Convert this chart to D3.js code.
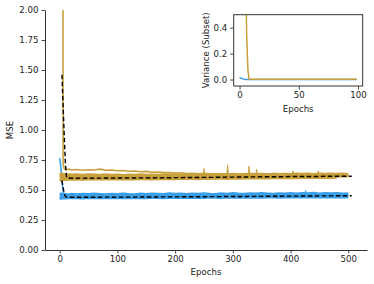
<!DOCTYPE html>
<html>
<head>
<meta charset="utf-8">
<script src="https://cdn.jsdelivr.net/npm/d3@7"></script>
<style>
  body { margin: 0; background: #fff; }
  text { font-family: "DejaVu Sans", sans-serif; }
</style>
</head>
<body>
<script>
// Epoch grid shared by every main-panel series
let epochs = [0, 2, 4, 5, 6, 8, 10, 12, 16, 20,
  30, 40, 50, 60, 70, 80, 90, 100, 110, 120,
  130, 140, 150, 160, 170, 180, 190, 200, 210, 220,
  230, 240, 250, 260, 270, 280, 290, 300, 310, 320,
  330, 340, 350, 360, 370, 380, 390, 400, 410, 420,
  430, 440, 450, 460, 470, 480, 490, 500, 506];

// Gold runs (MSE)
let goldSpikeRun = [6, 6, 6, 6, 0.72, 0.676, 0.672, 0.668, 0.674, 0.667,
  0.671, 0.665, 0.669, 0.667, 0.674, 0.664, 0.667, 0.66, 0.663, 0.656,
  0.658, 0.652, 0.655, 0.648, 0.65, 0.645, 0.646, 0.642, 0.643, 0.638,
  0.64, 0.636, 0.639, 0.634, 0.632, 0.633, 0.635, 0.63, 0.629, 0.628,
  0.631, 0.627, 0.627, 0.626, 0.627, 0.624, 0.625, 0.623, 0.624, 0.622,
  0.623, 0.621, 0.626, 0.62, 0.621, 0.619, null, null, null];
let goldRunA = [0.578, 0.582, 0.585, 0.584, 0.586, 0.585, 0.588, 0.586, 0.589, 0.587,
  0.59, 0.588, 0.591, 0.589, 0.592, 0.59, 0.589, 0.592, 0.59, 0.593,
  0.591, 0.594, 0.592, 0.59, 0.594, 0.593, 0.595, 0.592, 0.596, 0.594,
  0.595, 0.593, 0.597, 0.595, 0.598, 0.596, 0.595, 0.599, 0.597, 0.598,
  0.6, 0.598, 0.601, 0.599, 0.6, 0.602, 0.6, 0.603, 0.601, 0.602,
  0.604, 0.602, 0.603, 0.605, 0.603, 0.604, null, null, null];
let goldRunB = [0.598, 0.6, 0.602, 0.6, 0.603, 0.601, 0.6, 0.603, 0.601, 0.604,
  0.602, 0.6, 0.604, 0.602, 0.605, 0.601, 0.603, 0.606, 0.602, 0.604,
  0.603, 0.606, 0.604, 0.602, 0.607, 0.605, 0.603, 0.606, 0.604, 0.607,
  0.605, 0.608, 0.606, 0.604, 0.608, 0.607, 0.605, 0.609, 0.607, 0.61,
  0.608, 0.611, 0.609, 0.612, 0.61, 0.608, 0.612, 0.61, 0.613, 0.611,
  0.613, 0.611, 0.614, 0.612, 0.615, 0.613, 0.616, 0.614, null];
let goldRunC = [0.618, 0.62, 0.617, 0.619, 0.616, 0.618, 0.615, 0.617, 0.614, 0.616,
  0.613, 0.616, 0.614, 0.617, 0.613, 0.615, 0.618, 0.614, 0.616, 0.613,
  0.617, 0.615, 0.618, 0.614, 0.616, 0.619, 0.615, 0.617, 0.62, 0.616,
  0.618, 0.621, 0.617, 0.619, 0.622, 0.618, 0.62, 0.623, 0.619, 0.621,
  0.624, 0.62, 0.622, 0.625, 0.621, 0.623, 0.626, 0.622, 0.624, 0.627,
  0.623, 0.625, 0.628, 0.624, 0.626, 0.629, 0.625, 0.627, null];
let goldRunD = [0.638, 0.635, 0.632, 0.634, 0.63, 0.628, 0.63, 0.627, 0.629, 0.626,
  0.628, 0.625, 0.629, 0.626, 0.624, 0.628, 0.625, 0.627, 0.623, 0.626,
  0.624, 0.628, 0.625, 0.627, 0.624, 0.629, 0.626, 0.628, 0.625, 0.63,
  0.627, 0.629, 0.626, 0.631, 0.628, 0.63, 0.627, 0.632, 0.629, 0.631,
  0.633, 0.63, 0.632, 0.629, 0.634, 0.631, 0.633, 0.63, 0.635, 0.632,
  0.634, 0.631, 0.636, 0.633, 0.635, 0.632, 0.634, 0.631, null];
let goldMean = [null, null, 1.46, 1.33, 1.2, 0.95, 0.72, 0.605, 0.6, 0.598,
  0.598, 0.599, 0.598, 0.599, 0.599, 0.6, 0.599, 0.6, 0.6, 0.601,
  0.6, 0.601, 0.601, 0.602, 0.601, 0.602, 0.602, 0.603, 0.603, 0.604,
  0.604, 0.604, 0.605, 0.605, 0.606, 0.606, 0.607, 0.607, 0.608, 0.608,
  0.609, 0.609, 0.61, 0.61, 0.61, 0.611, 0.611, 0.612, 0.612, 0.612,
  0.613, 0.613, 0.613, 0.614, 0.614, 0.614, 0.615, 0.615, 0.615];

// Blue runs (MSE)
let blueStartRun = [0.765, 0.7, 0.58, 0.53, 0.49, 0.462, 0.452, 0.455, 0.45, 0.454,
  0.451, 0.456, 0.452, 0.455, 0.45, 0.454, 0.457, 0.452, 0.455, 0.451,
  0.456, 0.453, 0.457, 0.452, 0.455, 0.458, 0.453, 0.456, 0.454, 0.457,
  0.455, 0.458, 0.454, 0.457, 0.46, 0.455, 0.458, 0.456, 0.459, 0.457,
  0.46, 0.456, 0.459, 0.461, 0.457, 0.46, 0.458, 0.461, 0.459, 0.462,
  0.46, 0.463, 0.459, 0.462, 0.46, 0.463, 0.461, 0.462, null];
let blueRunA = [0.428, 0.43, 0.432, 0.431, 0.433, 0.432, 0.434, 0.432, 0.435, 0.433,
  0.434, 0.432, 0.435, 0.433, 0.436, 0.434, 0.433, 0.436, 0.434, 0.435,
  0.433, 0.436, 0.434, 0.437, 0.435, 0.434, 0.437, 0.435, 0.438, 0.436,
  0.435, 0.438, 0.436, 0.439, 0.437, 0.436, 0.439, 0.437, 0.44, 0.438,
  0.437, 0.44, 0.438, 0.441, 0.439, 0.438, 0.441, 0.439, 0.442, 0.44,
  0.441, 0.439, 0.442, 0.44, 0.443, 0.441, 0.442, 0.441, null];
let blueRunB = [0.448, 0.445, 0.447, 0.446, 0.448, 0.446, 0.447, 0.445, 0.448, 0.446,
  0.447, 0.445, 0.448, 0.446, 0.449, 0.447, 0.446, 0.449, 0.447, 0.448,
  0.446, 0.449, 0.447, 0.45, 0.448, 0.447, 0.45, 0.448, 0.451, 0.449,
  0.448, 0.451, 0.449, 0.452, 0.45, 0.449, 0.452, 0.45, 0.453, 0.451,
  0.45, 0.453, 0.451, 0.454, 0.452, 0.451, 0.454, 0.452, 0.455, 0.453,
  0.454, 0.452, 0.455, 0.453, 0.456, 0.454, 0.455, 0.454, null];
let blueRunC = [0.472, 0.468, 0.465, 0.466, 0.463, 0.465, 0.462, 0.464, 0.461, 0.466,
  0.463, 0.467, 0.464, 0.468, 0.465, 0.462, 0.467, 0.464, 0.469, 0.465,
  0.463, 0.468, 0.465, 0.469, 0.466, 0.464, 0.47, 0.466, 0.468, 0.465,
  0.469, 0.466, 0.471, 0.467, 0.465, 0.47, 0.467, 0.472, 0.468, 0.466,
  0.471, 0.468, 0.472, 0.469, 0.467, 0.471, 0.468, 0.473, 0.469, 0.472,
  0.47, 0.474, 0.469, 0.473, 0.47, 0.472, 0.469, 0.471, null];
let blueMean = [null, null, 0.58, 0.55, 0.52, 0.47, 0.448, 0.441, 0.44, 0.44,
  0.439, 0.44, 0.44, 0.44, 0.44, 0.441, 0.44, 0.441, 0.441, 0.441,
  0.441, 0.442, 0.442, 0.442, 0.442, 0.443, 0.443, 0.443, 0.443, 0.444,
  0.444, 0.444, 0.444, 0.445, 0.445, 0.445, 0.446, 0.446, 0.446, 0.446,
  0.447, 0.447, 0.447, 0.448, 0.448, 0.448, 0.449, 0.449, 0.449, 0.45,
  0.45, 0.45, 0.451, 0.451, 0.451, 0.452, 0.452, 0.452, 0.452];

// Narrow single-epoch spikes sitting on the band tops
let goldSpikeEpochs = [250, 291, 328, 341, 404, 448];
let goldSpikePeaks = [0.68, 0.71, 0.70, 0.675, 0.66, 0.66];
let goldSpikeBase = 0.628;
let blueSpikeEpochs = [426];
let blueSpikePeaks = [0.495];
let blueSpikeBase = 0.47;

// Inset: variance of the subset over the first 100 epochs
let insetEpochs = [0, 1, 2, 3, 4, 5, 6, 7, 8, 9, 10, 20, 30, 40, 50, 60, 70, 80, 90, 99];
let blueVariance = [0.012, 0.011, 0.008, 0.005, 0.002, 0.001, 0.0005, 0.0004, 0.0003, 0.0003,
  0.0003, 0.0003, 0.0003, 0.0003, 0.0003, 0.0003, 0.0003, 0.0003, 0.0003, 0.0003];
let goldVariance = [3.0, 3.0, 3.0, 3.0, 3.0, 0.9, 0.35, 0.08, 0.004, 0.002,
  0.002, 0.002, 0.002, 0.002, 0.002, 0.002, 0.002, 0.002, 0.002, 0.002];

let mainYTicks = [0, 0.25, 0.5, 0.75, 1.0, 1.25, 1.5, 1.75, 2.0];
let mainXTicks = [0, 100, 200, 300, 400, 500];
let insetYTicks = [0.0, 0.2, 0.4];
let insetXTicks = [0, 50, 100];

let gold = "#c8a03c";
let blue = "#3a9fe6";
let fontSize = "8.6px";

let svg = d3.select("body")
  .append("svg")
    .attr("width", 374)
    .attr("height", 284);

// Main axes
let x = d3.scaleLinear().domain([-25.35, 532.35]).range([45, 367]);
let y = d3.scaleLinear().domain([0, 2]).range([250, 10]);

svg.append("clipPath").attr("id", "clipMain")
  .append("rect")
    .attr("x", 45).attr("y", 10)
    .attr("width", 322).attr("height", 240);

let plot = svg.append("g").attr("clip-path", "url(#clipMain)");

function series(values) {
  return values.map((v, i) => ({ e: epochs[i], v: v }));
}

let line = d3.line()
  .defined((d) => d.v != null)
  .x((d) => x(d.e))
  .y((d) => y(d.v));

function drawRun(values, color, width) {
  plot.append("path")
    .datum(series(values))
    .attr("fill", "none")
    .attr("stroke", color)
    .attr("stroke-width", width)
    .attr("stroke-linejoin", "round")
    .attr("d", line);
}

function drawSpikes(eps, peaks, base, color) {
  eps.forEach((e, i) => {
    plot.append("path")
      .attr("fill", color)
      .attr("stroke", color)
      .attr("stroke-width", 0.8)
      .attr("d", line([{ e: e - 1.5, v: base }, { e: e, v: peaks[i] }, { e: e + 1.5, v: base }]));
  });
}

// Blue runs first, gold runs on top
drawRun(blueRunA, blue, 2.6);
drawRun(blueRunB, blue, 2.6);
drawRun(blueRunC, blue, 2.6);
drawRun(blueStartRun, blue, 1.6);
drawSpikes(blueSpikeEpochs, blueSpikePeaks, blueSpikeBase, blue);

drawRun(goldRunA, gold, 2.6);
drawRun(goldRunB, gold, 2.6);
drawRun(goldRunC, gold, 2.6);
drawRun(goldRunD, gold, 2.6);
drawRun(goldSpikeRun, gold, 1.6);
drawSpikes(goldSpikeEpochs, goldSpikePeaks, goldSpikeBase, gold);

// Mean curves
[blueMean, goldMean].forEach((m) => {
  plot.append("path")
    .datum(series(m))
    .attr("fill", "none")
    .attr("stroke", "#000")
    .attr("stroke-width", 1.4)
    .attr("stroke-dasharray", "4.5,2.5")
    .attr("d", line);
});

function styleAxis(g) {
  g.selectAll("path.domain").attr("stroke", "#333").attr("stroke-width", 1);
  g.selectAll(".tick line").attr("stroke", "#333").attr("stroke-width", 0.9);
  g.selectAll(".tick text")
    .attr("fill", "#222")
    .style("font-size", fontSize)
    .style("font-family", "DejaVu Sans, sans-serif");
}

svg.append("g")
  .attr("transform", "translate(0,250)")
  .call(d3.axisBottom(x).tickValues(mainXTicks).tickSize(3.5).tickSizeOuter(0).tickPadding(2.5))
  .call(styleAxis);

svg.append("g")
  .attr("transform", "translate(45,0)")
  .call(d3.axisLeft(y).tickValues(mainYTicks).tickFormat(d3.format(".2f"))
    .tickSize(3.5).tickSizeOuter(0).tickPadding(3))
  .call(styleAxis);

svg.append("text")
  .attr("x", 206)
  .attr("y", 275)
  .attr("text-anchor", "middle")
  .style("font-size", fontSize)
  .attr("fill", "#222")
  .text("Epochs");

svg.append("text")
  .attr("transform", "translate(13,130) rotate(-90)")
  .attr("text-anchor", "middle")
  .style("font-size", fontSize)
  .attr("fill", "#222")
  .text("MSE");

// Inset axes
let ix = d3.scaleLinear().domain([-4.95, 103.95]).range([233.7, 362.7]);
let iy = d3.scaleLinear().domain([-0.05, 0.5]).range([86, 14.7]);

svg.append("rect")
  .attr("x", 233.7).attr("y", 14.7)
  .attr("width", 129).attr("height", 71.3)
  .attr("fill", "#fff");

svg.append("clipPath").attr("id", "clipInset")
  .append("rect")
    .attr("x", 233.7).attr("y", 14.7)
    .attr("width", 129).attr("height", 71.3);

let inset = svg.append("g").attr("clip-path", "url(#clipInset)");

let iline = d3.line()
  .x((d) => ix(d.e))
  .y((d) => iy(d.v));

[[blueVariance, blue], [goldVariance, gold]].forEach(([vals, color]) => {
  inset.append("path")
    .datum(vals.map((v, i) => ({ e: insetEpochs[i], v: v })))
    .attr("fill", "none")
    .attr("stroke", color)
    .attr("stroke-width", 1.5)
    .attr("stroke-linejoin", "round")
    .attr("d", iline);
});

svg.append("g")
  .attr("transform", "translate(0,86)")
  .call(d3.axisBottom(ix).tickValues(insetXTicks).tickSize(3.5).tickSizeOuter(0).tickPadding(2.5))
  .call(styleAxis)
  .call((g) => g.select("path.domain").remove());

svg.append("g")
  .attr("transform", "translate(233.7,0)")
  .call(d3.axisLeft(iy).tickValues(insetYTicks).tickFormat(d3.format(".1f"))
    .tickSize(3.5).tickSizeOuter(0).tickPadding(3))
  .call(styleAxis)
  .call((g) => g.select("path.domain").remove());

svg.append("rect")
  .attr("x", 233.7).attr("y", 14.7)
  .attr("width", 129).attr("height", 71.3)
  .attr("fill", "none")
  .attr("stroke", "#333")
  .attr("stroke-width", 1);

svg.append("text")
  .attr("x", 298.2)
  .attr("y", 111.5)
  .attr("text-anchor", "middle")
  .style("font-size", fontSize)
  .attr("fill", "#222")
  .text("Epochs");

svg.append("text")
  .attr("transform", "translate(209,50.3) rotate(-90)")
  .attr("text-anchor", "middle")
  .style("font-size", fontSize)
  .attr("fill", "#222")
  .text("Variance (Subset)");
</script>
</body>
</html>
